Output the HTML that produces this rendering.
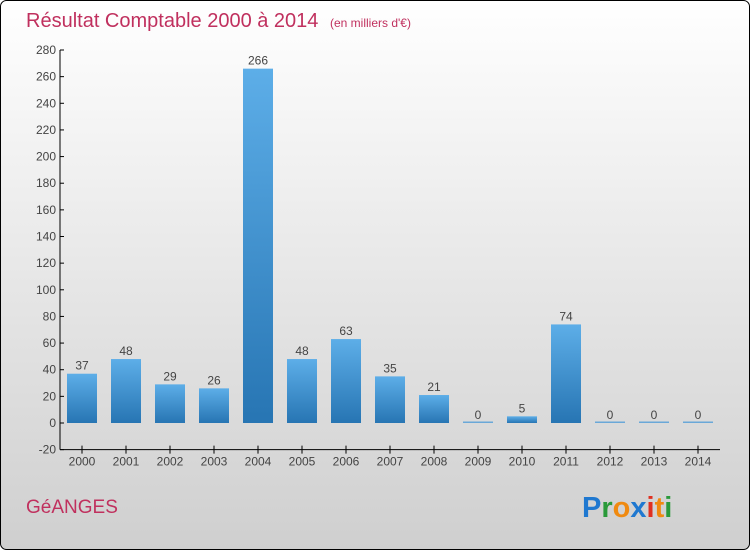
<!DOCTYPE html>
<html><head><meta charset="utf-8"><style>
body{margin:0;width:750px;height:550px;overflow:hidden;font-family:"Liberation Sans",sans-serif}
</style></head><body>
<svg width="750" height="550" xmlns="http://www.w3.org/2000/svg" id="svg">
<defs>
<linearGradient id="bg" x1="0" y1="0" x2="0" y2="1"><stop offset="0" stop-color="#ffffff"/><stop offset="1" stop-color="#cfcfcf"/></linearGradient>
<linearGradient id="bar" x1="0" y1="0" x2="0" y2="1"><stop offset="0" stop-color="#5daee8"/><stop offset="1" stop-color="#2775b3"/></linearGradient>
</defs>
<rect x="0.5" y="0.5" width="749" height="549" rx="6" fill="url(#bg)" stroke="#000"/>
<text x="26" y="27" font-size="20" fill="#c0305e">Résultat Comptable 2000 à 2014 <tspan font-size="12" dx="6">(en milliers d'€)</tspan></text>
<g id="plot"></g>
<text x="26" y="513" font-size="19" fill="#c0305e">GéANGES</text>
<text x="582" y="517" font-size="29" font-weight="bold"><tspan fill="#1f78d0">P</tspan><tspan fill="#2a9a3a">r</tspan><tspan fill="#f08a10">o</tspan><tspan fill="#1f78d0">x</tspan><tspan fill="#e03020">i</tspan><tspan fill="#f08a10">t</tspan><tspan fill="#2a9a3a">i</tspan></text>
</svg>
<script>
const categories=["2000","2001","2002","2003","2004","2005","2006","2007","2008","2009","2010","2011","2012","2013","2014"];
const values=[37,48,29,26,266,48,63,35,21,0,5,74,0,0,0];
const yTicks=[-20,0,20,40,60,80,100,120,140,160,180,200,220,240,260,280];
const ns="http://www.w3.org/2000/svg";
const g=document.getElementById("plot");
const y=v=>423-(v)*373/280;
const x=i=>82+i*44;
function mk(t,a){const e=document.createElementNS(ns,t);for(const k in a)e.setAttribute(k,a[k]);g.appendChild(e);return e;}
let ax=mk("line",{x1:60,y1:y(280),x2:60,y2:y(-20),stroke:"#000"});


let xa=mk("line",{x1:60,y1:y(-20),x2:720,y2:y(-20),stroke:"#000"});


yTicks.forEach(v=>{
 let t=mk("line",{x1:60,y1:y(v),x2:64,y2:y(v),stroke:"#000"});
 
 
 let l=mk("text",{x:56,y:y(v)+4,"font-size":12,fill:"#444","text-anchor":"end"});
 l.textContent=v;
 
 
});
categories.forEach((c,i)=>{
 let t=mk("line",{x1:x(i),y1:y(-20)-4,x2:x(i),y2:y(-20)+4,stroke:"#000"});
 
 
 let l=mk("text",{x:x(i),y:y(-20)+16,"font-size":12,fill:"#444","text-anchor":"middle"});
 l.textContent=c;
 
 
 const v=values[i];
 const top=y(Math.max(v,0)), h=Math.max(Math.abs(y(0)-y(v)),1.5);
 let b=mk("rect",{x:x(i)-15,y:v>0?top:y(0)-1.5,width:30,height:h,fill:v>0?"url(#bar)":"#6aa8d8"});
 
 
 let vl=mk("text",{x:x(i),y:(v>0?top:y(0))-4,"font-size":12,fill:"#444","text-anchor":"middle"});
 vl.textContent=v;
 
 
});
</script>
</body></html>
